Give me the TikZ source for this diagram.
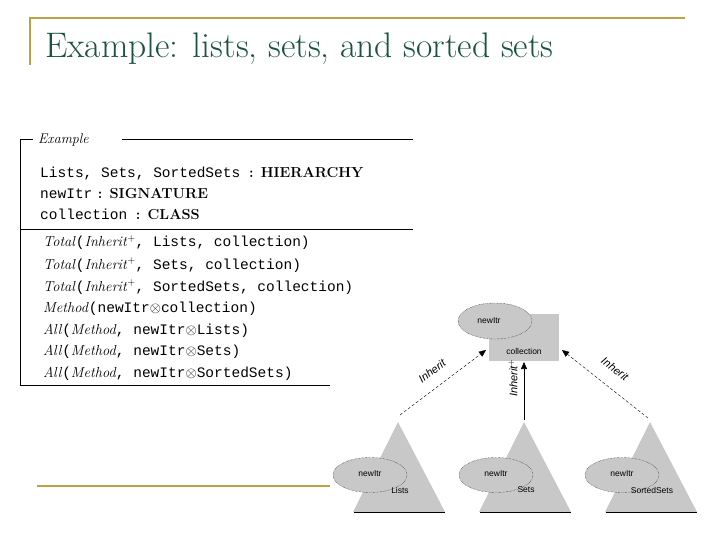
\documentclass[tikz,border=0pt]{standalone}
\usepackage{fontspec}
\newfontfamily\dsans{Liberation Sans}
\newfontfamily\dmono{Liberation Mono}
\usetikzlibrary{arrows.meta}
\definecolor{gold}{RGB}{190,160,70}
\definecolor{ttl}{RGB}{25,85,60}
\definecolor{shp}{RGB}{200,200,200}
\begin{document}
\begin{tikzpicture}[x=1pt,y=-1pt,
  lbl/.style={font=\dsans\fontsize{8.5}{9}\selectfont,inner sep=1pt},
  ell/.style={fill=shp,draw=black,densely dotted,line width=0.4pt},
  txt/.style={anchor=base west,inner sep=0pt,font=\dmono\fontsize{14.5}{16}\selectfont},
  dasharr/.style={densely dashed,line width=0.4pt,-{Triangle[length=7pt,width=6pt]}},
  il/.style={font=\dsans\itshape\fontsize{11}{12}\selectfont,inner sep=1pt}]
\useasboundingbox (0,0) rectangle (720,540);
% title frame
\draw[gold,line width=1.5pt] (30,65) -- (30,18) -- (685,18);
\draw[gold,line width=1.5pt] (37,486) -- (330,486);
\node[anchor=base west,inner sep=0pt,text=ttl,font=\fontsize{35.5}{38}\selectfont] (title) at (45,58) {Example: lists, sets, and sorted sets};
% box
\node[anchor=base west,inner sep=0pt,font=\itshape\fontsize{14}{16}\selectfont] (ex) at (38,144) {Example};
\draw (20,385) -- (20,139) -- (33,139);
\draw (122,139) -- (413,139);
\draw (20,229) -- (413,229);
\draw (20,385) -- (330,385);
\node[txt] (l1) at (40,178) {Lists, Sets, SortedSets \textrm{\textbf{: HIERARCHY}}};
\node[txt] (l2) at (40,199) {newItr\textrm{\textbf{ : SIGNATURE}}};
\node[txt] (l3) at (40,220) {collection \textrm{\textbf{: CLASS}}};
\node[txt] (m1) at (43,247) {\textrm{\itshape Total}(\textrm{\itshape Inherit}$^+$, Lists, collection)};
\node[txt] (m2) at (43,269) {\textrm{\itshape Total}(\textrm{\itshape Inherit}$^+$, Sets, collection)};
\node[txt] (m3) at (43,291) {\textrm{\itshape Total}(\textrm{\itshape Inherit}$^+$, SortedSets, collection)};
\node[txt] (m4) at (43,312) {\textrm{\itshape Method}(newItr$\otimes$collection)};
\node[txt] (m5) at (43,334) {\textrm{\itshape All}(\textrm{\itshape Method}, newItr$\otimes$Lists)};
\node[txt] (m6) at (43,355) {\textrm{\itshape All}(\textrm{\itshape Method}, newItr$\otimes$Sets)};
\node[txt] (m7) at (43,377) {\textrm{\itshape All}(\textrm{\itshape Method}, newItr$\otimes$SortedSets)};
% top class
\fill[shp] (489,314) rectangle (559,361);
\node[lbl] (coll) at (524,351) {collection};
\draw[ell] (495,321) ellipse (37 and 18);
\node[lbl] (ni0) at (489,321) {newItr};
\coordinate (cL) at (486,350);
\coordinate (cC) at (524,362);
\coordinate (cR) at (562,350);
% triangles
\foreach \n/\cx/\lab in {A/398/Lists,B/524/Sets,C/650/SortedSets}{
  \fill[shp] (\cx,422) -- (\cx+47,512) -- (\cx-45,512) -- cycle;
  \draw[line width=0.6pt] (\cx-44,512) -- (\cx+47,512);
  \draw[ell] (\cx-28,475) ellipse (37 and 17.5);
  \node[lbl] (lab\n) at (\cx+2,490) {\lab};
  \node[lbl] (ni\n) at (\cx-28,474) {newItr};
  \coordinate (t\n) at (\cx,420);
}
\draw[dasharr] (400,415) -- (cL);
\draw[line width=0.6pt,-{Triangle[length=7pt,width=6pt]}] (tB) -- (cC);
\draw[dasharr] (648,418) -- (cR);
\node[il,rotate=37] at (432,371) {Inherit};
\node[il,rotate=90] at (513,378) {Inherit$^+$};
\node[il,rotate=-37] at (615,369) {Inherit};
\end{tikzpicture}
\end{document}
